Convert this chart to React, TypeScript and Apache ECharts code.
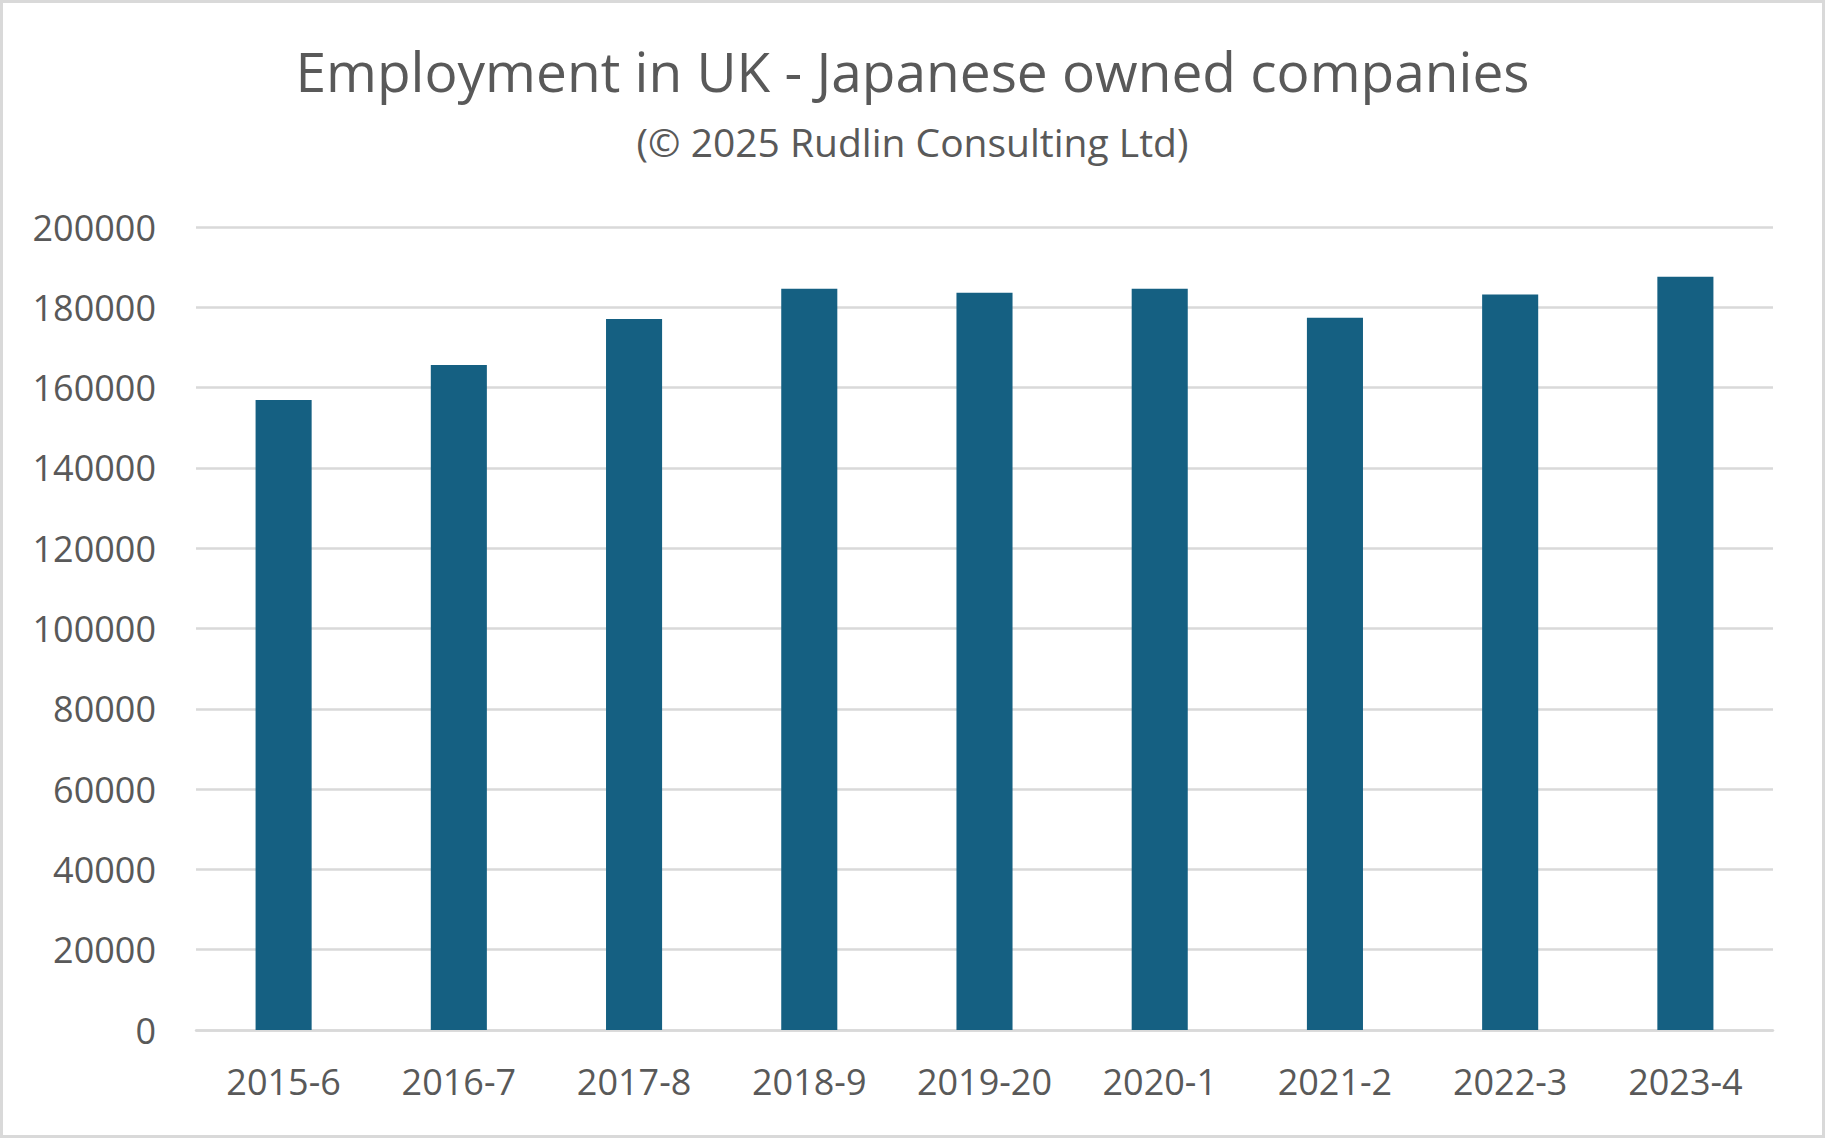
import React, { useEffect, useRef } from "react";
import * as echarts from "echarts";

const categories = ["2015-6", "2016-7", "2017-8", "2018-9", "2019-20", "2020-1", "2021-2", "2022-3", "2023-4"];
const employment = [156900, 165600, 177100, 184600, 183600, 184600, 177400, 183200, 187600];
const yTicks = { min: 0, max: 200000, interval: 20000 };
const titleText = "Employment in UK - Japanese owned companies";
const subtitleText = "(© 2025 Rudlin Consulting Ltd)";

const W = 1825;
const H = 1138;
const FONT = "'Open Sans', sans-serif";
const TEXT = "#595959";
const GRID = "#d9d9d9";
const BAR = "#156082";

export default function App() {
  const ref = useRef<HTMLDivElement>(null);
  useEffect(() => {
    if (!ref.current) return;
    const chart = echarts.init(ref.current, null, { renderer: "svg", width: W, height: H });
    chart.setOption({
      animation: false,
      backgroundColor: "#ffffff",
      textStyle: { fontFamily: FONT },
      title: [
        {
          text: titleText,
          left: "center",
          top: 38,
          textStyle: { fontFamily: FONT, fontSize: 55, fontWeight: "normal", color: TEXT },
        },
        {
          text: subtitleText,
          left: "center",
          top: 117,
          textStyle: { fontFamily: FONT, fontSize: 39, fontWeight: "normal", color: TEXT },
        },
      ],
      graphic: [
        {
          type: "rect",
          shape: { x: 1.5, y: 1.5, width: W - 3, height: H - 3 },
          style: { fill: "none", stroke: GRID, lineWidth: 3 },
          silent: true,
        },
      ],
      grid: { left: 196, right: 52, top: 227, bottom: 108, containLabel: false },
      xAxis: {
        type: "category",
        data: categories,
        axisTick: { show: false },
        axisLine: { show: true, lineStyle: { color: GRID, width: 2.5 } },
        axisLabel: { color: TEXT, fontSize: 36, fontFamily: FONT, margin: 33, interval: 0, hideOverlap: false },
      },
      yAxis: {
        type: "value",
        min: yTicks.min,
        max: yTicks.max,
        interval: yTicks.interval,
        axisLine: { show: false },
        axisTick: { show: false },
        splitLine: { lineStyle: { color: GRID, width: 2.5 } },
        axisLabel: {
          color: TEXT,
          fontSize: 36,
          fontFamily: FONT,
          margin: 40,
          formatter: (v: number) => String(v),
        },
      },
      series: [
        {
          type: "bar",
          data: employment,
          barWidth: "32%",
          itemStyle: { color: BAR },
        },
      ],
    });
    return () => chart.dispose();
  }, []);
  return <div ref={ref} style={{ position: "fixed", left: 0, top: 0, width: W, height: H }} />;
}
